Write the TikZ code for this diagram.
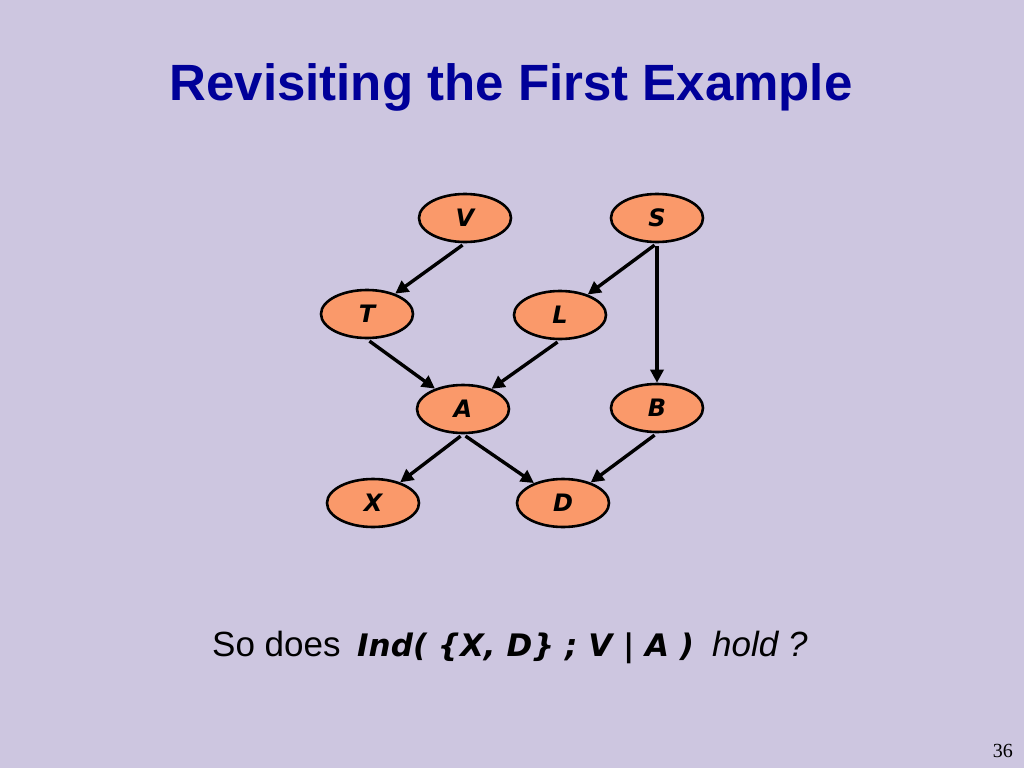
\documentclass[tikz,border=0pt]{standalone}
\usepackage{fontspec}
\setmainfont{Liberation Sans}
\newfontfamily\nodefont{DejaVu Sans}
\newfontfamily\numfont{Liberation Serif}
\usetikzlibrary{shapes.geometric,arrows.meta}
\definecolor{bg}{RGB}{205,198,224}
\definecolor{titleblue}{RGB}{0,0,153}
\definecolor{salmon}{RGB}{250,153,106}
\tikzset{
  bn/.style={ellipse, draw=black, line width=2.6pt, fill=salmon, minimum width=92pt, minimum height=48pt, inner sep=0pt,
    font=\nodefont\bfseries\itshape\fontsize{24}{28}\selectfont},
  edge/.style={line width=3.4pt, -{Triangle[length=13pt,width=13pt]}, shorten <=3pt},
  txt/.style={anchor=base west, inner sep=0pt}
}
\begin{document}
\begin{tikzpicture}[x=1pt,y=-1pt]
\fill[bg] (0,0) rectangle (1024,768);
\useasboundingbox (0,0) rectangle (1024,768);
\node[anchor=base, inner sep=0pt, text=titleblue, font=\bfseries\fontsize{51}{60}\selectfont] (title) at (511,100) {Revisiting the First Example};
\node[bn] (V) at (465,218) {V};
\node[bn] (S) at (657,218) {S};
\node[bn] (T) at (367,314) {T};
\node[bn] (L) at (560,315) {L};
\node[bn] (A) at (463,409) {A};
\node[bn] (B) at (657,408) {B};
\node[bn] (X) at (373,503) {X};
\node[bn] (D) at (563,503) {D};
\draw[edge] (V.south) -- (T);
\draw[edge] (S.south) -- (L);
\draw[edge] (S.south) -- (B.north);
\draw[edge] (T.south) -- (A);
\draw[edge] (L.south) -- (A);
\draw[edge] (A.south) -- (X);
\draw[edge] (A.south) -- (D);
\draw[edge] (B.south) -- (D);
\node[txt, font=\fontsize{35}{42}\selectfont] (q1) at (212,656) {So does};
\node[txt, font=\nodefont\bfseries\itshape\fontsize{31}{38}\selectfont] (q2) at (357,656) {Ind( \{X, D\} ; V | A )};
\node[txt, font=\itshape\fontsize{35}{42}\selectfont] (q3) at (712,656) {hold ?};
\node[anchor=base east, inner sep=0pt, font=\numfont\fontsize{20}{24}\selectfont] (pg) at (1013,757) {36};
\end{tikzpicture}
\end{document}
